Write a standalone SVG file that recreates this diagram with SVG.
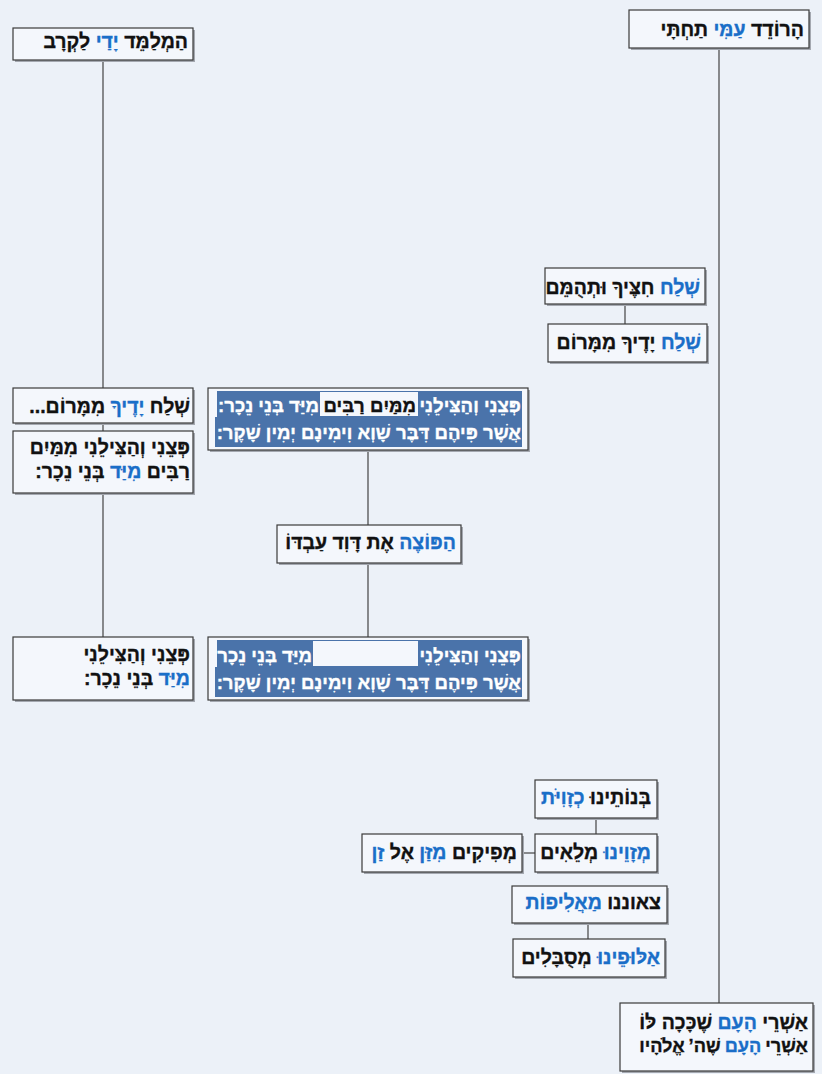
<svg xmlns="http://www.w3.org/2000/svg" width="822" height="1074" viewBox="0 0 822 1074">
<style>
.bg{fill:#ECF1F8}
.box{fill:#F4F7FC;stroke:#3a3a3a;stroke-width:1.2}
.sh{fill:#a4a8b0}
.conn line{stroke:#444;stroke-width:1.2}
.t{font-family:"Liberation Sans","DejaVu Sans",sans-serif;font-weight:bold;font-size:19.5px;fill:#111;stroke:#111;stroke-width:0.35;direction:rtl;text-anchor:start}
.h{font-size:18.6px}
.b{fill:#1a6ec8;stroke:#1a6ec8}
.w{fill:#ffffff;stroke:#ffffff}
.hl{fill:#4a73aa}
.gap{fill:#F4F7FC}
</style>
<rect class="bg" x="0" y="0" width="822" height="1074"/>
<g class="conn">
<line x1="719" y1="48" x2="719" y2="1003"/>
<line x1="103" y1="60" x2="103" y2="637"/>
<line x1="625" y1="304" x2="625" y2="324"/>
<line x1="368" y1="450" x2="368" y2="637"/>
<line x1="596" y1="818" x2="596" y2="834"/>
<line x1="522" y1="853" x2="535" y2="853"/>
<line x1="588" y1="923" x2="588" y2="939"/>
</g>
<g id="n1">
<rect class="sh" x="631" y="12" width="180" height="38"/>
<rect class="box" x="629" y="10" width="180" height="38"/>
<text class="t" x="804" y="36">הָרוֹדֵד <tspan class="b">עַמִּי</tspan> תַחְתָּי</text>
</g>
<g id="n2">
<rect class="sh" x="15" y="30" width="180" height="32"/>
<rect class="box" x="13" y="28" width="180" height="32"/>
<text class="t" x="188" y="48">הַמְלַמֵּד <tspan class="b">יָדַי</tspan> לַקְרָב</text>
</g>
<g id="n3">
<rect class="sh" x="547" y="270" width="160" height="36"/>
<rect class="box" x="545" y="268" width="160" height="36"/>
<text class="t" x="700" y="294"><tspan class="b">שְׁלַח</tspan> חִצֶּיךָ וּתְהֻמֵּם</text>
</g>
<g id="n4">
<rect class="sh" x="550" y="326" width="159" height="38"/>
<rect class="box" x="548" y="324" width="159" height="38"/>
<text class="t" x="701" y="349"><tspan class="b">שְׁלַח</tspan> יָדֶיךָ מִמָּרוֹם</text>
</g>
<g id="n5">
<rect class="sh" x="15" y="390" width="180" height="35"/>
<rect class="box" x="13" y="388" width="180" height="35"/>
<text class="t" x="190" y="413">שְׁלַח <tspan class="b">יָדֶיךָ</tspan> מִמָּרוֹם...</text>
</g>
<g id="n6">
<rect class="sh" x="15" y="433" width="180" height="62"/>
<rect class="box" x="13" y="431" width="180" height="62"/>
<text class="t" x="190" y="454">פְּצֵנִי וְהַצִּילֵנִי מִמַּיִם</text>
<text class="t" x="190" y="478">רַבִּים <tspan class="b">מִיַּד</tspan> בְּנֵי נֵכָר:</text>
</g>
<g id="n7">
<rect class="sh" x="15" y="639" width="180" height="63"/>
<rect class="box" x="13" y="637" width="180" height="63"/>
<text class="t" x="190" y="661">פְּצֵנִי וְהַצִּילֵנִי</text>
<text class="t" x="190" y="685"><tspan class="b">מִיַּד</tspan> בְּנֵי נֵכָר:</text>
</g>
<g id="n8">
<rect class="sh" x="210" y="390" width="320" height="62"/>
<rect class="box" x="208" y="388" width="320" height="62"/>
<rect class="hl" x="217" y="391" width="305" height="26"/>
<rect class="hl" x="215" y="417" width="307" height="30"/>
<rect class="gap" x="320" y="392" width="98" height="24"/>
<text class="t h w" x="521" y="412">פְּצֵנִי וְהַצִּילֵנִי</text>
<text class="t h" x="416" y="412">מִמַּיִם רַבִּים</text>
<text class="t h w" x="319" y="412">מִיַּד בְּנֵי נֵכָר:</text>
<text class="t h w" x="521" y="439">אֲשֶׁר פִּיהֶם דִּבֶּר שָׁוְא וִימִינָם יְמִין שָׁקֶר:</text>
</g>
<g id="n9">
<rect class="sh" x="279" y="527" width="184" height="38"/>
<rect class="box" x="277" y="525" width="184" height="38"/>
<text class="t" x="456" y="549"><tspan class="b">הַפּוֹצֶה</tspan> אֶת דָּוִד עַבְדּוֹ</text>
</g>
<g id="n10">
<rect class="sh" x="210" y="639" width="320" height="63"/>
<rect class="box" x="208" y="637" width="320" height="63"/>
<rect class="hl" x="217" y="640" width="305" height="27"/>
<rect class="hl" x="215" y="667" width="307" height="30"/>
<rect class="gap" x="313" y="641" width="105" height="25"/>
<text class="t h w" x="521" y="662">פְּצֵנִי וְהַצִּילֵנִי</text>
<text class="t h w" x="312" y="662">מִיַּד בְּנֵי נֵכָר</text>
<text class="t h w" x="521" y="689">אֲשֶׁר פִּיהֶם דִּבֶּר שָׁוְא וִימִינָם יְמִין שָׁקֶר:</text>
</g>
<g id="n11">
<rect class="sh" x="537" y="782" width="122" height="38"/>
<rect class="box" x="535" y="780" width="122" height="38"/>
<text class="t" x="651" y="804">בְּנוֹתֵינוּ <tspan class="b">כְזָוִיֹּת</tspan></text>
</g>
<g id="n12">
<rect class="sh" x="537" y="836" width="122" height="38"/>
<rect class="box" x="535" y="834" width="122" height="38"/>
<text class="t" x="651" y="859"><tspan class="b">מְזָוֵינוּ</tspan> מְלֵאִים</text>
</g>
<g id="n13">
<rect class="sh" x="364" y="836" width="160" height="38"/>
<rect class="box" x="362" y="834" width="160" height="38"/>
<text class="t" x="517" y="859">מְפִיקִים <tspan class="b">מִזַּן</tspan> אֶל <tspan class="b">זַן</tspan></text>
</g>
<g id="n14">
<rect class="sh" x="514" y="888" width="155" height="37"/>
<rect class="box" x="512" y="886" width="155" height="37"/>
<text class="t" x="661" y="909">צאוננו <tspan class="b">מַאֲלִיפוֹת</tspan></text>
</g>
<g id="n15">
<rect class="sh" x="515" y="941" width="152" height="38"/>
<rect class="box" x="513" y="939" width="152" height="38"/>
<text class="t" x="660" y="964"><tspan class="b">אַלּוּפֵינוּ</tspan> מְסֻבָּלִים</text>
</g>
<g id="n16">
<rect class="sh" x="622" y="1005" width="193" height="68"/>
<rect class="box" x="620" y="1003" width="193" height="68"/>
<text class="t" x="808" y="1029">אַשְׁרֵי <tspan class="b">הָעָם</tspan> שֶׁכָּכָה לּוֹ</text>
<text class="t" x="808" y="1052" style="font-size:18.2px;word-spacing:-1px">אַשְׁרֵי <tspan class="b">הָעָם</tspan> שֶׁה’ אֱלֹהָיו</text>
</g>
</svg>
